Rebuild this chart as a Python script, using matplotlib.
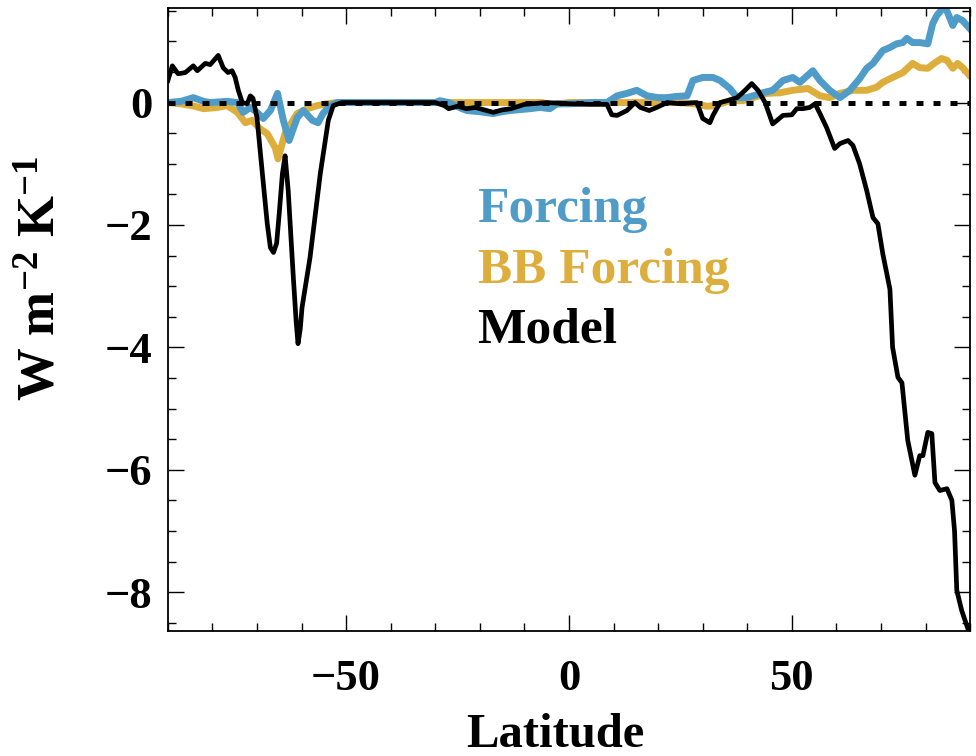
import matplotlib
matplotlib.use("Agg")
import matplotlib.pyplot as plt
from matplotlib.ticker import MultipleLocator

# zonal mean values
model_lat = [-90, -89, -87.7, -86.1, -84.3, -83.4, -81.6, -80.5, -78.7, -77.6,
             -76.5, -75.6, -74.9, -74.2, -73.3, -72.2, -71.5, -70.9, -70.0, -68.8,
             -67.7, -67.0, -66.3, -65.6, -65.0, -64.3, -63.7, -63.0, -61.9, -61.2,
             -60.8, -60.3, -59.9, -58.1, -55.8, -54.0, -52.9, -51, -30, -28,
             -27, -25, -23, -21, -19, -17, -15, -13, -10, -5,
             0, 5, 8.5, 9.6, 10.8, 13, 14.8, 16, 18, 19.7,
             22, 25, 28.7, 30, 31.6, 32.3, 33.9, 35.5, 37.7, 39.5,
             41, 42.4, 44.0, 45.7, 48, 50, 51.1, 52.5, 54, 55.2,
             56.3, 57.8, 59.6, 60.8, 62.6, 63.7, 65.2, 66.8, 68.2, 69.3,
             70.4, 72, 72.6, 73.8, 74.7, 76, 77.6, 78.7, 79.4, 80.5,
             81.4, 82.1, 83.2, 84.8, 85.9, 86.5, 87, 88.1, 89.5]
model_val = [0.36, 0.6, 0.47, 0.49, 0.6, 0.52, 0.64, 0.62, 0.77, 0.57,
             0.49, 0.52, 0.41, 0.2, 0.0, -0.02, 0.11, 0.07, -0.25, -1.16,
             -1.98, -2.37, -2.45, -2.3, -1.8, -1.16, -0.87, -1.44, -2.8, -3.6,
             -3.94, -3.7, -3.35, -2.53, -1.16, -0.29, -0.05, 0, 0, -0.05,
             -0.1, -0.06, -0.1, -0.08, -0.12, -0.16, -0.12, -0.1, -0.03, 0,
             -0.02, -0.03, -0.03, -0.2, -0.21, -0.13, 0, -0.08, -0.13, -0.08,
             0, -0.02, 0, -0.26, -0.33, -0.21, 0, 0.03, 0.08, 0.2,
             0.31, 0.2, 0.0, -0.35, -0.21, -0.2, -0.1, -0.1, -0.08, -0.02,
             -0.18, -0.41, -0.75, -0.67, -0.62, -0.70, -1.0, -1.44, -1.88, -1.98,
             -2.47, -3.05, -4.0, -4.49, -4.58, -5.52, -6.09, -5.77, -5.77, -5.39,
             -5.41, -6.21, -6.34, -6.31, -6.5, -7.0, -7.97, -8.3, -8.6]

forcing_lat = [-90, -87, -84.3, -82, -80.5, -76.7, -74.4, -73.1, -71.5, -70,
               -68.6, -67, -65.4, -64.1, -62.8, -61, -59.6, -57.6, -56.3, -55.2,
               -53.6, -52, -30, -29, -27, -24, -22.9, -20, -17, -15,
               -13.2, -8.7, -6.5, -4.3, -2.7, 0, 5, 8.5, 10.8, 13,
               15.2, 17.5, 20, 22, 24, 26.5, 27.8, 30, 32.3, 33.9,
               36.1, 37.7, 39.9, 41.3, 43.5, 45.7, 48, 50.2, 51.8, 54.7,
               56.3, 58.5, 60.8, 63, 65.2, 66.8, 68.2, 70.4, 72, 73.5,
               74.9, 75.8, 77.1, 78.7, 80.5, 81.6, 82.5, 84.3, 85.4, 86.1,
               87, 88.3, 89.9]
forcing_val = [0.0, 0.02, 0.08, 0.02, 0.0, 0.02, 0.0, -0.16, -0.08, -0.16,
               -0.26, -0.13, 0.15, -0.29, -0.62, -0.25, -0.13, -0.29, -0.33, -0.18,
               -0.05, 0, 0, 0.03, 0, -0.1, -0.13, -0.15, -0.18, -0.15,
               -0.13, -0.1, -0.08, -0.1, -0.02, -0.02, 0, 0, 0.11, 0.15,
               0.2, 0.11, 0.08, 0.08, 0.1, 0.11, 0.36, 0.41, 0.41, 0.36,
               0.23, 0.08, 0.08, 0.11, 0.16, 0.2, 0.36, 0.41, 0.33, 0.52,
               0.36, 0.2, 0.08, 0.2, 0.39, 0.56, 0.64, 0.85, 0.9, 0.96,
               0.98, 1.05, 0.98, 0.98, 0.96, 1.29, 1.42, 1.58, 1.39, 1.26,
               1.39, 1.34, 1.21]

bb_lat = [-90, -87.2, -84, -82, -78.9, -76.7, -74.4, -72.6, -71.1, -69.3,
          -67.7, -65.9, -65.3, -63.7, -61, -58.7, -56.5, -54.3, -52, -6,
          -4, -2, 0, 25, 28, 31, 33, 33.9, 36.1, 39,
          41.3, 44.4, 47.3, 50.2, 53.6, 56.3, 58.5, 60.8, 63.7, 66.8,
          69, 70.4, 72.6, 74.9, 77.1, 78.7, 80.5, 82.1, 83.6, 84.8,
          86.1, 87.2, 88.3, 89.9]
bb_val = [0.0, -0.02, -0.06, -0.1, -0.08, -0.05, -0.16, -0.33, -0.29, -0.43,
          -0.51, -0.74, -0.92, -0.5, -0.18, -0.1, -0.05, -0.02, 0, 0,
          -0.04, -0.02, 0, 0, -0.02, -0.06, -0.05, -0.02, 0.03, 0.03,
          0.08, 0.15, 0.16, 0.2, 0.23, 0.11, 0.08, 0.15, 0.2, 0.2,
          0.25, 0.33, 0.41, 0.49, 0.64, 0.57, 0.56, 0.65, 0.72, 0.69,
          0.56, 0.64, 0.57, 0.44]

series_names = ['Forcing', 'BB Forcing', 'Model']

blue = '#4F9CC9'
gold = '#DEAE3C'

plt.rcParams['font.family'] = ['Liberation Serif', 'DejaVu Serif']
plt.rcParams['font.weight'] = 'bold'
plt.rcParams['mathtext.fontset'] = 'custom'
plt.rcParams['mathtext.rm'] = 'Liberation Serif:bold'
plt.rcParams['mathtext.it'] = 'Liberation Serif:bold'
plt.rcParams['mathtext.bf'] = 'Liberation Serif:bold'

fig = plt.figure(figsize=(9.76, 7.56), dpi=100)
ax = fig.add_axes([0.172, 0.165, 0.822, 0.824])

ax.plot(bb_lat, bb_val, color=gold, lw=5, solid_joinstyle='round')
ax.plot(forcing_lat, forcing_val, color=blue, lw=5, solid_joinstyle='round')
ax.plot(model_lat, model_val, color='black', lw=3.4, solid_joinstyle='round')
ax.axhline(0, color='black', lw=3.6, linestyle=(0, (1.4, 2.0)), dash_capstyle='butt')

ax.set_xlim(-90, 90)
ax.set_ylim(-8.64, 1.54)
ax.xaxis.set_major_locator(MultipleLocator(50))
ax.xaxis.set_minor_locator(MultipleLocator(10))
ax.yaxis.set_major_locator(MultipleLocator(2))
ax.yaxis.set_minor_locator(MultipleLocator(0.5))
ax.tick_params(which='both', direction='in', top=True, right=True, width=1.0)
ax.tick_params(which='major', length=11.5)
ax.tick_params(which='minor', length=5.8)
ax.tick_params(axis='x', which='major', labelsize=32, pad=20)
ax.tick_params(axis='y', which='major', labelsize=32, pad=11)
fmt = plt.FuncFormatter(lambda v, p: f"{v:.0f}".replace('-', '\u2212'))
ax.xaxis.set_major_formatter(fmt)
ax.yaxis.set_major_formatter(fmt)
for s in ax.spines.values():
    s.set_linewidth(1.3)

ax.set_xlabel('Latitude', fontsize=35, fontweight='bold', va='baseline')
ax.xaxis.set_label_coords(0.483, -0.185)
ax.set_ylabel(r'W m$^{\mathregular{-2}}$ K$^{\mathregular{-1}}$', fontsize=38, fontweight='bold')
ax.yaxis.set_label_coords(-0.127, 0.567)

for name, color, ypos in zip(series_names, [blue, gold, 'black'], [0.676, 0.579, 0.483]):
    ax.text(0.386, ypos, name, color=color, fontsize=37, fontweight='bold',
            transform=ax.transAxes, va='center')

fig.savefig('out.png', dpi=100)
